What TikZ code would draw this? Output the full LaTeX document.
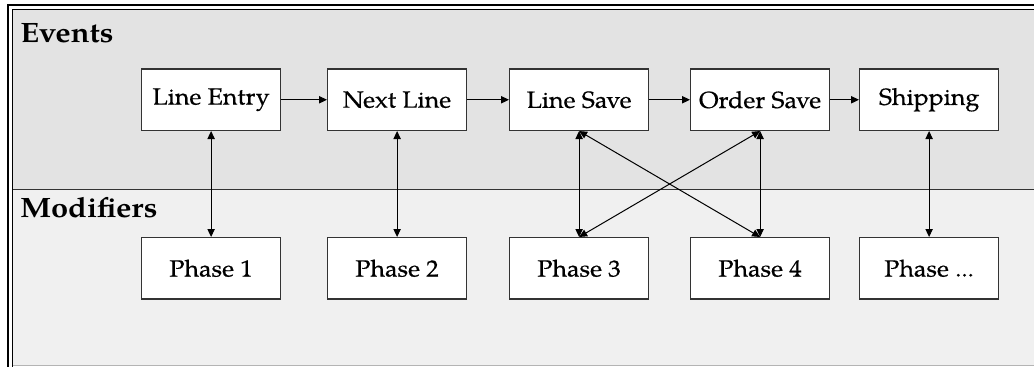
\documentclass[tikz,border=0pt]{standalone}
\usepackage{fontspec}
\setmainfont{TeX Gyre Pagella}[FakeStretch=1.1]
\newfontfamily\stagefont{TeX Gyre Pagella}[FakeStretch=1.07, FakeBold=0.5]
\usetikzlibrary{arrows.meta}
\definecolor{evbg}{HTML}{E3E3E3}
\definecolor{modbg}{HTML}{F0F0F0}
\definecolor{boxline}{HTML}{333333}
\definecolor{rulegrey}{HTML}{B4B4B4}
\begin{document}
\begin{tikzpicture}[x=0.75pt,y=-0.75pt,
  stage/.style={draw=boxline, fill=white, line width=0.9pt,
    minimum width=104.25pt, minimum height=46pt, inner sep=0pt,
    anchor=north west, font=\stagefont\fontsize{17.5}{20}\selectfont},
  lane/.style={anchor=base west, inner sep=0pt,
    font=\fontsize{21}{23}\selectfont\bfseries},
  tip/.tip={Triangle[length=6pt,width=5.5pt]},
  flow/.style={-tip, line width=0.75pt},
  link/.style={tip-tip, line width=0.75pt}]
\useasboundingbox (0,0) rectangle (1034,367);
% lane backgrounds
\fill[evbg] (12,9) rectangle (1034,189);
\fill[modbg] (12,189) rectangle (1034,366);
\draw[line width=0.75pt, black!80] (12,189) -- (1034,189);
\draw[line width=1pt, rulegrey] (12,365.5) -- (1034,365.5);
% window frame
\draw[line width=1.5pt] (8,367) -- (8,5) -- (1034,5);
\draw[line width=0.75pt] (12,367) -- (12,9.5) -- (1034,9.5);
% lane titles
\node[lane] (events) at (20,43) {Events};
\node[lane] (mods) at (20,217) {Modifiers};
% event stages
\node[stage] (entry) at (141,68.5) {Line Entry};
\node[stage] (next)  at (327,68.5) {Next Line};
\node[stage] (lsave) at (509,68.5) {Line Save};
\node[stage] (osave) at (690,68.5) {Order Save};
\node[stage] (ship)  at (859,68.5) {Shipping};
% modifier phases
\node[stage] (p1) at (141,237) {Phase 1};
\node[stage] (p2) at (327,237) {Phase 2};
\node[stage] (p3) at (509,237) {Phase 3};
\node[stage] (p4) at (690,237) {Phase 4};
\node[stage] (pn) at (859,237) {Phase ...};
% event sequence
\draw[flow] (entry) -- (next);
\draw[flow] (next) -- (lsave);
\draw[flow] (lsave) -- (osave);
\draw[flow] (osave) -- (ship);
% event / phase links
\draw[link] (entry.south) -- (p1.north);
\draw[link] (next.south) -- (p2.north);
\draw[link] (lsave.south) -- (p3.north);
\draw[link] (osave.south) -- (p4.north);
\draw[link] (ship.south) -- (pn.north);
\draw[link] (lsave.south) -- (p4.north);
\draw[link] (osave.south) -- (p3.north);
\end{tikzpicture}
\end{document}
